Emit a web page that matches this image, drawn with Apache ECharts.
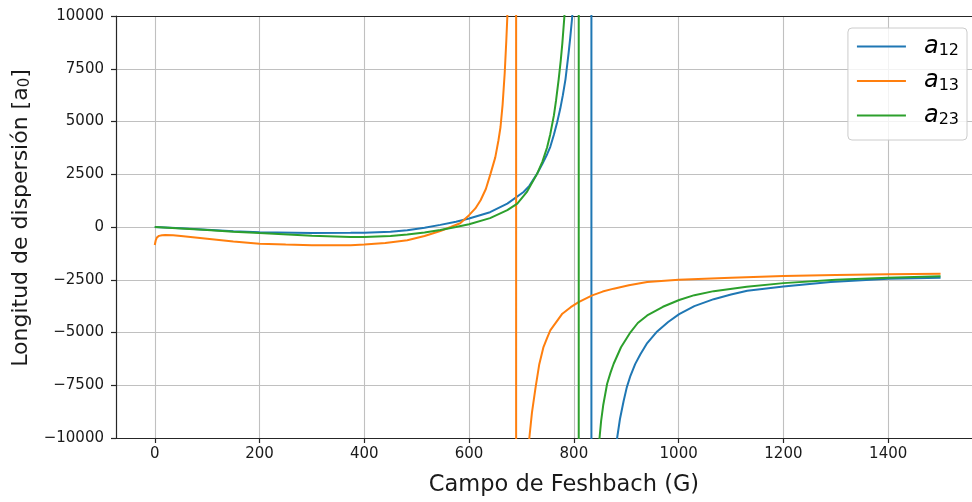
<!DOCTYPE html>
<html><head><meta charset="utf-8">
<script src="https://cdn.jsdelivr.net/npm/echarts@6/dist/echarts.min.js"></script>
<style>html,body{margin:0;padding:0;background:#fff}#c{width:972px;height:502px}</style>
</head><body><div id="c"></div>
<script>
const seriesNames = ['a12', 'a13', 'a23'];
const seriesColors = ['#1f77b4', '#ff7f0e', '#2ca02c'];
const xTicks = [0, 200, 400, 600, 800, 1000, 1200, 1400];
const yTicks = [-10000, -7500, -5000, -2500, 0, 2500, 5000, 7500, 10000];

const a12 = [[0,0],[50,-60],[100,-130],[150,-200],[200,-250],[300,-290],[374,-275],[400,-267],[450,-220],[482,-157],[515,-40],[545,100],[575,250],[600,400],[640,700],[673,1110],[704,1660],[715,1950],[730,2530],[740,3000],[749,3450],[755,3800],[762,4380],[768,4950],[774,5600],[779,6250],[784,7000],[790,8250],[793,8950],[797,10000],[833.5,100000],[833.5,-100000],[882.6,-10000],[888,-9100],[895,-8250],[901,-7600],[908,-7050],[917,-6500],[927,-6030],[940,-5500],[959,-4950],[980,-4500],[1001,-4130],[1030,-3750],[1067,-3420],[1100,-3200],[1131,-3020],[1200,-2820],[1290,-2610],[1400,-2450],[1500,-2400]];
const a13 = [[0,-850],[2,-620],[4,-500],[8,-420],[14,-390],[20,-380],[35,-395],[50,-430],[100,-560],[150,-690],[200,-790],[250,-830],[300,-860],[374,-870],[400,-835],[440,-760],[482,-630],[515,-430],[545,-190],[565,0],[583,180],[600,560],[612,880],[622,1266],[632,1800],[641,2530],[650,3300],[656,4100],[660,4740],[664,5800],[668,7300],[671,8800],[673,9960],[689.8,100000],[689.8,-100000],[715,-10000],[720,-8800],[727,-7590],[734,-6500],[742,-5690],[749,-5250],[755,-4900],[778,-4108],[794,-3800],[809,-3557],[835,-3240],[855,-3060],[876,-2922],[905,-2760],[940,-2609],[1000,-2495],[1100,-2400],[1200,-2324],[1300,-2280],[1400,-2243],[1500,-2210]];
const a23 = [[0,0],[50,-70],[100,-140],[150,-220],[200,-290],[300,-420],[374,-474],[400,-474],[450,-430],[482,-360],[515,-260],[545,-140],[575,0],[600,130],[640,420],[673,800],[692,1110],[710,1650],[730,2530],[740,3100],[749,3780],[755,4400],[762,5300],[766,6000],[771,7000],[775,7900],[778,8700],[782,10000],[809.3,100000],[809.3,-100000],[849,-10000],[852,-9200],[856,-8450],[863.5,-7430],[870,-6900],[876,-6480],[890,-5700],[908,-4990],[922,-4550],[940,-4190],[970,-3780],[1001,-3460],[1030,-3230],[1067,-3040],[1130,-2830],[1200,-2660],[1300,-2500],[1400,-2400],[1500,-2338]];
const seriesData = [a12, a13, a23];

const X_MIN = -74, X_MAX = 1560;
const FONT = 'DejaVu Sans';
const TXT = '#1a1a1a';
const SPINE = '#262626';
const chart = echarts.init(document.getElementById('c'), null, {renderer: 'canvas'});
chart.setOption({
  animation: false,
  backgroundColor: '#ffffff',
  textStyle: {fontFamily: FONT},
  grid: {left: 116, top: 16, right: 0, height: 422, containLabel: false},
  legend: {
    orient: 'vertical', right: 5, top: 28,
    padding: [6, 8, 12, 9],
    icon: 'rect',
    itemWidth: 49, itemHeight: 2.2, itemGap: 9.5,
    backgroundColor: 'rgba(255,255,255,0.8)', borderColor: '#cccccc', borderWidth: 1, borderRadius: 4,
    data: seriesNames,
    formatter: n => '{a|a}{s|' + n.slice(1) + '}',
    textStyle: {
      fontFamily: FONT, color: '#000',
      rich: {
        a: {fontSize: 24, fontStyle: 'italic', fontFamily: FONT, color: '#000', padding: [0, 0, 0, 13], lineHeight: 27},
        s: {fontSize: 16, fontFamily: FONT, color: '#000', padding: [9, 0, 0, 0], lineHeight: 27}
      }
    }
  },
  xAxis: [{
    type: 'value', min: X_MIN, max: X_MAX, splitNumber: 8, position: 'bottom',
    name: 'Campo de Feshbach (G)', nameLocation: 'middle', nameGap: 36,
    nameTextStyle: {fontSize: 22.5, color: TXT, fontFamily: FONT, padding: [0, 0, 0, 40]},
    axisLine: {show: true, onZero: false, lineStyle: {color: SPINE, width: 1.2}},
    axisTick: {show: true, customValues: xTicks, length: 5, lineStyle: {color: SPINE, width: 1.2}},
    axisLabel: {customValues: xTicks, fontSize: 15, color: TXT, margin: 9, fontFamily: FONT, formatter: v => String(v)},
    splitLine: {show: true, lineStyle: {color: '#c0c0c0', width: 1.1}}
  }, {
    type: 'value', min: X_MIN, max: X_MAX, position: 'top',
    axisLine: {show: true, onZero: false, lineStyle: {color: SPINE, width: 1.2}},
    axisTick: {show: false}, axisLabel: {show: false}, splitLine: {show: false}
  }],
  yAxis: {
    type: 'value', min: yTicks[0], max: yTicks[yTicks.length - 1], interval: 2500,
    name: 'Longitud de dispersión [a{sub|0}]', nameLocation: 'middle', nameGap: 73,
    nameTextStyle: {fontSize: 22, color: TXT, fontFamily: FONT, padding: [0, 0, 0, 18],
      rich: {sub: {fontSize: 15, fontFamily: FONT, color: TXT, padding: [8, 0, 0, 0]}}},
    axisLine: {show: true, onZero: false, lineStyle: {color: SPINE, width: 1.2}},
    axisTick: {show: true, length: 5, lineStyle: {color: SPINE, width: 1.2}},
    axisLabel: {fontSize: 15, color: TXT, margin: 12, fontFamily: FONT, formatter: v => String(v).replace('-', '\u2212')},
    splitLine: {show: true, lineStyle: {color: '#c0c0c0', width: 1.1}}
  },
  series: seriesNames.map((n, i) => ({
    name: n, type: 'line', data: seriesData[i], xAxisIndex: 0, symbol: 'none', showSymbol: false,
    clip: true, smooth: false,
    color: seriesColors[i],
    lineStyle: {color: seriesColors[i], width: 2}
  }))
});
</script></body></html>
